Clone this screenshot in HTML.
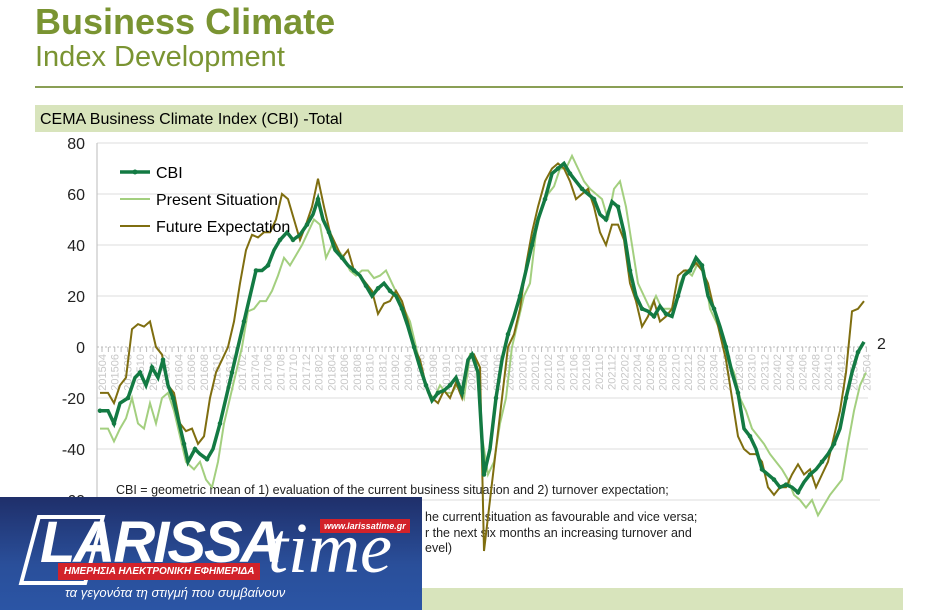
<!DOCTYPE html>
<html><head><meta charset="utf-8"><style>
body{margin:0;width:940px;height:610px;background:#fff;overflow:hidden;font-family:"Liberation Sans",sans-serif;position:relative}
.t1{position:absolute;left:35px;top:1px;font-size:36px;font-weight:bold;color:#7a9432}
.t2{position:absolute;left:35px;top:41px;font-size:29px;color:#7a9432}
.hr{position:absolute;left:35px;top:86px;width:868px;height:2px;background:#8a9f55}
.band{position:absolute;left:35px;top:105px;width:868px;height:27px;background:#d8e4bc;font-size:16px;line-height:30px;padding-left:5px;box-sizing:border-box}
.bot{position:absolute;left:30px;top:588px;width:873px;height:22px;background:#d8e4bc}
svg{position:absolute;left:0;top:0}
.logo{position:absolute;left:0;top:497px;width:422px;height:113px;background:linear-gradient(#1f2f6a,#2a4f9a 60%,#2b55a5)}
</style></head><body>
<div class="t1">Business Climate</div>
<div class="t2">Index Development</div>
<div class="hr"></div>
<div class="band">CEMA Business Climate Index (CBI) -Total</div>
<div class="bot"></div>
<svg id="s" width="940" height="610" xmlns="http://www.w3.org/2000/svg"></svg>
<div class="logo">
<div style="position:absolute;left:28px;top:18px;width:60px;height:62px;border:4px solid #fff;transform:skewX(-15deg)"></div>
<div style="position:absolute;left:40px;top:12px;font:italic bold 58px 'Liberation Sans',sans-serif;color:#fff;letter-spacing:-2px">LARISSA</div>
<div style="position:absolute;left:268px;top:10px;font:italic 72px 'Liberation Serif',serif;color:#fff">time</div>
<div style="position:absolute;left:320px;top:22px;background:#d2222a;color:#fff;font:italic bold 9px 'Liberation Sans',sans-serif;padding:2px 4px">www.larissatime.gr</div>
<div style="position:absolute;left:58px;top:66px;background:#d2222a;color:#fff;font:italic bold 10px 'Liberation Sans',sans-serif;padding:3px 6px">ΗΜΕΡΗΣΙΑ ΗΛΕΚΤΡΟΝΙΚΗ ΕΦΗΜΕΡΙΔΑ</div>
<div style="position:absolute;left:65px;top:88px;color:#fff;font:italic 13px 'Liberation Sans',sans-serif">τα γεγονότα τη στιγμή που συμβαίνουν</div>
</div>
<script>
const s=document.getElementById('s');let h='';
const Y=v=>347-v*2.55;
for(let v=80;v>=-60;v-=20){if(v!==0)h+=`<line x1="97" x2="868" y1="${Y(v)}" y2="${Y(v)}" stroke="#dedede"/>`;
h+=`<text x="85" y="${Y(v)+6}" text-anchor="end" font-size="16" fill="#222">${v}</text>`;}
h+=`<line x1="97" x2="97" y1="143" y2="500" stroke="#bbb"/>`;
h+=`<line x1="97" x2="868" y1="347" y2="347" stroke="#bbb" stroke-dasharray="2,2"/>`;
for(let i=0;i<=120;i++){const x=102+i*6.37;h+=`<line x1="${x}" x2="${x}" y1="347" y2="352" stroke="#bbb"/>`;
if(i%2==0){const yr=2015+Math.floor((i+3)/12),m=((i+3)%12)+1;const lab=yr+''+(m<10?'0':'')+m;
h+=`<text transform="translate(${x+4},354) rotate(-90)" text-anchor="end" font-size="11" fill="#c8c8c8">${lab}</text>`;}}
const P=a=>{let r=[];for(let i=0;i<a.length;i+=2)r.push(a[i]+','+Y(a[i+1]).toFixed(1));return r.join(' ')};
const cbi=[100,-25,108,-25,114,-30,120,-22,128,-20,135,-12,140,-10,146,-15,152,-8,158,-12,163,-5,168,-15,173,-20,178,-28,184,-38,188,-45,195,-40,200,-42,207,-44,213,-40,220,-30,226,-20,232,-10,238,0,244,10,250,20,256,30,262,30,268,32,274,38,280,42,287,45,293,42,300,44,307,48,313,52,318,58,323,50,329,45,335,38,342,35,348,32,354,30,360,28,366,24,372,20,378,23,384,25,390,22,396,20,402,15,408,8,414,0,420,-8,426,-15,432,-21,438,-18,444,-17,450,-15,456,-12,462,-18,468,-5,472,-3,478,-10,484,-50,490,-40,496,-20,502,-5,508,5,514,12,520,20,526,30,532,40,538,50,545,58,552,68,558,70,564,72,570,68,576,65,582,62,588,60,594,58,600,52,606,50,612,57,618,55,624,45,630,30,636,20,642,15,648,14,654,12,660,16,666,13,672,12,678,20,684,28,690,30,696,35,702,32,708,20,714,15,720,8,726,0,732,-10,738,-18,744,-32,750,-35,756,-40,762,-48,768,-50,774,-52,780,-55,786,-54,792,-55,798,-57,804,-53,810,-50,816,-48,822,-45,828,-42,834,-38,840,-32,846,-20,852,-10,858,-2,864,2];
const pres=[100,-32,108,-32,114,-37,120,-32,126,-28,132,-20,138,-30,144,-32,150,-22,156,-30,162,-20,168,-18,174,-25,180,-35,186,-45,194,-48,200,-45,206,-52,212,-55,218,-45,224,-30,230,-20,236,-10,242,0,248,14,254,15,260,18,266,18,272,22,278,28,284,35,290,32,296,36,302,40,308,45,314,50,320,48,326,35,332,40,338,38,344,35,350,30,356,28,362,30,368,30,374,27,380,28,386,30,392,25,398,20,404,15,410,10,416,0,422,-10,428,-18,434,-20,440,-15,446,-18,452,-18,458,-14,464,-20,470,-3,476,-5,482,-35,488,-50,494,-45,500,-30,506,-20,512,0,518,10,524,20,530,25,536,45,542,55,548,60,554,63,560,70,566,70,572,75,578,70,584,65,590,62,596,60,602,58,608,50,614,62,620,65,626,55,632,40,638,25,644,20,650,15,656,20,662,15,668,15,674,15,680,25,686,30,692,28,698,33,704,30,710,15,716,10,722,5,728,-5,734,-10,740,-20,746,-25,752,-32,758,-35,764,-38,770,-42,776,-45,782,-48,788,-52,794,-58,800,-60,806,-63,812,-60,818,-66,824,-62,830,-58,836,-55,842,-52,848,-38,854,-25,860,-15,866,-10];
const fut=[100,-18,108,-18,114,-22,120,-15,126,-12,132,7,138,9,144,8,150,10,156,0,162,-3,168,-15,174,-18,180,-30,186,-33,192,-32,198,-38,204,-35,210,-20,216,-10,222,-5,228,0,234,10,240,25,246,38,252,44,258,43,264,45,270,45,276,50,282,60,288,58,294,50,300,42,306,48,312,55,318,66,324,55,330,45,336,40,342,35,348,38,354,30,360,28,366,25,372,22,378,13,384,17,390,18,396,22,402,18,408,10,414,0,420,-5,426,-15,432,-20,438,-22,444,-17,450,-20,456,-14,462,-20,468,-5,474,-3,480,-8,484,-80,490,-60,496,-40,502,-20,508,0,514,5,520,15,526,32,532,45,538,55,545,65,552,70,558,72,564,70,570,65,576,58,582,60,588,62,594,55,600,45,606,40,612,48,618,48,624,42,630,25,636,18,642,8,648,12,654,18,660,10,666,12,672,15,678,28,684,30,690,30,696,33,702,30,708,25,714,15,720,5,726,-5,732,-20,738,-35,744,-40,750,-42,756,-42,762,-45,768,-55,774,-58,780,-55,786,-55,792,-50,798,-46,804,-50,810,-48,816,-55,822,-50,828,-45,834,-35,840,-25,846,-10,852,14,858,15,864,18];
h+=`<rect x="110" y="477" width="770" height="100" fill="#fff"/>`;
h+=`<line x1="110" x2="880" y1="500" y2="500" stroke="#ddd"/>`;
h+=`<text font-size="12.5" fill="#222"><tspan x="116" y="494">CBI = geometric mean of 1) evaluation of the current business situation and 2) turnover expectation;</tspan><tspan x="425" y="521">he current situation as favourable and vice versa;</tspan><tspan x="425" y="537">r the next six months an increasing turnover and</tspan><tspan x="425" y="552">evel)</tspan></text>`;
h+=`<polyline points="${P(pres)}" fill="none" stroke="#a3cf7f" stroke-width="2"/>`;
h+=`<polyline points="${P(fut)}" fill="none" stroke="#7f6e10" stroke-width="2"/>`;
h+=`<polyline points="${P(cbi)}" fill="none" stroke="#137a43" stroke-width="3.5"/>`;
for(let i=0;i<cbi.length;i+=4)h+=`<circle cx="${cbi[i]}" cy="${Y(cbi[i+1])}" r="2.3" fill="#137a43"/>`;
h+=`<text x="877" y="349" font-size="16" fill="#222">2</text>`;
h+=`<line x1="120" x2="150" y1="172" y2="172" stroke="#137a43" stroke-width="3.5"/><circle cx="135" cy="172" r="2.5" fill="#137a43"/><text x="156" y="178" font-size="16">CBI</text>`;
h+=`<line x1="120" x2="150" y1="199" y2="199" stroke="#a3cf7f" stroke-width="2"/><text x="156" y="205" font-size="16">Present Situation</text>`;
h+=`<line x1="120" x2="150" y1="226" y2="226" stroke="#7f6e10" stroke-width="2"/><text x="156" y="232" font-size="16">Future Expectation</text>`;
s.innerHTML=h;
</script>
</body></html>
